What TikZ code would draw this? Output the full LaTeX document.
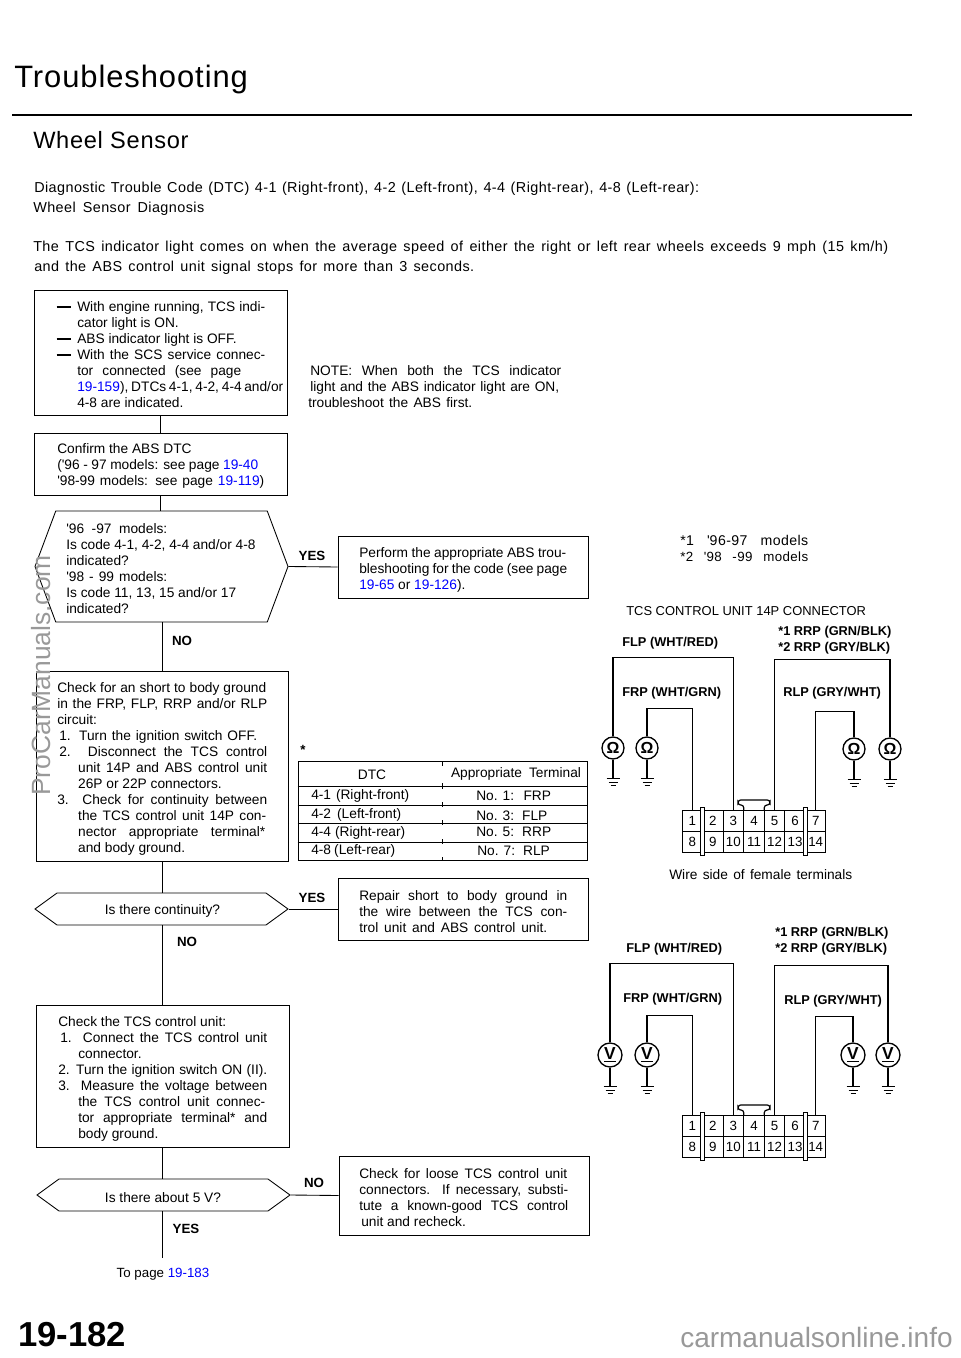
\documentclass[tikz,border=0pt]{standalone}
\usepackage{fontspec}
\setmainfont{Liberation Sans}
\newfontfamily\trackedfont[LetterSpace=3]{Liberation Sans}
\usetikzlibrary{shapes.symbols}
\newcommand{\linkref}[1]{\textcolor{blue}{#1}}
\newcommand{\boxdash}{\llap{\rule[2.8pt]{10.5pt}{1.3pt}\hspace{5pt}}}
\newcommand{\fitline}[2]{\makebox[\dimexpr#1pt*3/4\relax][s]{#2}}
\newcommand{\sq}{\textquotesingle{}}
\tikzset{
  flowbox/.style 2 args={draw,line width=0.65pt,minimum width=#1*0.75pt,minimum height=#2*0.75pt,inner sep=0pt},
  decision/.style n args={3}{draw,line width=0.65pt,signal,signal to=west and east,signal pointer angle=#3,
    minimum width=#1*0.75pt,minimum height=#2*0.75pt,inner sep=0pt},
  boxtext/.style={anchor=west,align=left,inner sep=0pt,yshift=-1pt,font=\fontsize{10.3}{12}\selectfont},
  flowline/.style={line width=0.65pt},
  answer/.style={inner sep=0pt,font=\bfseries\fontsize{10}{12}\selectfont},
  wirelabel/.style={anchor=west,inner sep=0pt,font=\bfseries\fontsize{9.6}{12}\selectfont},
  headline/.style={anchor=west,inner sep=0pt,yshift=-1.5pt,font=\trackedfont\fontsize{10.8}{13}\selectfont},
  ohmmeter/.style={draw,circle,line width=1pt,minimum size=16.5pt,inner sep=0pt,font=\bfseries\fontsize{12}{12}\selectfont},
  voltmeter/.style={draw,circle,line width=1pt,minimum size=18pt,inner sep=0pt,font=\bfseries\fontsize{13}{13}\selectfont},
  wire/.style={line width=0.9pt},
  pincell/.style={draw,line width=0.75pt,minimum width=15.4pt,minimum height=15.75pt,inner sep=0pt,font=\fontsize{10}{10}\selectfont},
  earth/.pic={
    \draw[wire] (0,0) -- (0,19);
    \draw[wire] (-6.5,19) -- (6.5,19);
    \draw[wire] (-4.5,22.5) -- (4.5,22.5);
    \draw[wire] (-2.5,26) -- (2.5,26);
  },
  tcsplug/.pic={
    \node[pincell] (-c1) at (10.3,10.5) {1};
    \node[pincell] (-c2) at (30.9,10.5) {2};
    \node[pincell] (-c3) at (51.4,10.5) {3};
    \node[pincell] (-c4) at (72,10.5) {4};
    \node[pincell] (-c5) at (92.6,10.5) {5};
    \node[pincell] (-c6) at (113.1,10.5) {6};
    \node[pincell] (-c7) at (133.7,10.5) {7};
    \node[pincell] (-c8) at (10.3,31.5) {8};
    \node[pincell] (-c9) at (30.9,31.5) {9};
    \node[pincell] (-c10) at (51.4,31.5) {10};
    \node[pincell] (-c11) at (72,31.5) {11};
    \node[pincell] (-c12) at (92.6,31.5) {12};
    \node[pincell] (-c13) at (113.1,31.5) {13};
    \node[pincell] (-c14) at (133.7,31.5) {14};
    \draw[line width=0.7pt,fill=white] (18.6,-3) rectangle (22.6,45);
    \draw[line width=0.7pt,fill=white] (121.4,-3) rectangle (125.4,45);
    \draw[wire,rounded corners=2pt] (61.7,0) -- (61.7,-5) -- (56,-5) -- (56,-10) -- (88,-10) -- (88,-5) -- (82.3,-5) -- (82.3,0);
  }
}
\begin{document}
\begin{tikzpicture}[x=0.75pt,y=-0.75pt]
  \useasboundingbox (0,0) rectangle (960,1358);
  % page heading
  \node[anchor=west,inner sep=0pt,font=\trackedfont\fontsize{23.2}{28}\selectfont] (pagetitle) at (14,79.5) {Troubleshooting};
  \draw[line width=1.6pt] (12,115) -- (912,115);
  \node[anchor=west,inner sep=0pt,font=\trackedfont\fontsize{17.7}{22}\selectfont] (sectitle) at (33,140) {Wheel Sensor};
  \node[headline] (dtcline) at (34,187) {\fitline{665}{Diagnostic Trouble Code (DTC) 4-1 (Right-front), 4-2 (Left-front), 4-4 (Right-rear), 4-8 (Left-rear):}};
  \node[headline] (diagline) at (33,207) {\fitline{171}{Wheel Sensor Diagnosis}};
  \node[headline] (introa) at (33,246) {\fitline{855}{The TCS indicator light comes on when the average speed of either the right or left rear wheels exceeds 9 mph (15 km/h)}};
  \node[headline] (introb) at (34,266) {\fitline{440}{and the ABS control unit signal stops for more than 3 seconds.}};
  % flowchart boxes
  \node[flowbox={253}{125}] (engbox) at (160.5,352.5) {};
  \node[boxtext] (engtext) at (77,353) {\boxdash\fitline{188}{With engine running, TCS indi-}\\cator light is ON.\\\boxdash ABS indicator light is OFF.\\\boxdash\fitline{188}{With the SCS service connec-}\\\fitline{164}{tor connected (see page}\\\fitline{206}{\linkref{19-159}), DTCs 4-1, 4-2, 4-4 and/or}\\4-8 are indicated.};
  \node[flowbox={253}{62}] (absbox) at (160.5,464) {};
  \node[boxtext] (abstext) at (57,465) {Confirm the ABS DTC\\\fitline{201}{(\sq 96 - 97 models: see page \linkref{19-40}}\\\fitline{207}{\sq 98-99 models: see page \linkref{19-119})}};
  \node[decision={253}{111}{139}] (codedec) at (161.5,566.5) {};
  \node[boxtext] (codetext) at (66,567.5) {\fitline{101}{\sq 96 -97 models:}\\Is code 4-1, 4-2, 4-4 and/or 4-8\\indicated?\\\fitline{101}{\sq 98 - 99 models:}\\Is code 11, 13, 15 and/or 17\\indicated?};
  \node[flowbox={252}{190}] (shortbox) at (162,766) {};
  \node[boxtext] (shorttext) at (57,767.5) {\fitline{209}{Check for an short to body ground}\\\fitline{210}{in the FRP, FLP, RRP and/or RLP}\\circuit:\\\hspace*{1.5pt}\fitline{198}{1. Turn the ignition switch OFF.}\\\hspace*{1.5pt}\fitline{208}{2. Disconnect the TCS control}\\\hspace*{15.7pt}\fitline{189}{unit 14P and ABS control unit}\\\hspace*{15.7pt}26P or 22P connectors.\\\fitline{210}{3. Check for continuity between}\\\hspace*{15.7pt}\fitline{188}{the TCS control unit 14P con-}\\\hspace*{15.7pt}\fitline{187}{nector appropriate terminal*}\\\hspace*{15.7pt}and body ground.};
  \node[decision={253}{32}{72}] (contdec) at (161.5,909) {};
  \node[boxtext,anchor=center] (conttext) at (162.5,910) {Is there continuity?};
  \node[flowbox={253}{142}] (tcsbox) at (162.5,1076) {};
  \node[boxtext] (tcstext) at (58,1077.5) {Check the TCS control unit:\\\hspace*{1.5pt}\fitline{207}{1. Connect the TCS control unit}\\\hspace*{15pt}connector.\\\fitline{209}{2. Turn the ignition switch ON (II).}\\\fitline{209}{3. Measure the voltage between}\\\hspace*{15pt}\fitline{187}{the TCS control unit connec-}\\\hspace*{15pt}\fitline{189}{tor appropriate terminal* and}\\\hspace*{15pt}body ground.};
  \node[decision={253}{32}{72}] (voltdec) at (163.5,1195) {};
  \node[boxtext,anchor=center] (volttext) at (163,1196) {Is there about 5 V?};
  \coordinate (nextpage) at (162,1258);
  \node[anchor=center,inner sep=0pt,font=\fontsize{10}{12}\selectfont] (pagelink) at (163,1274.5) {To page \linkref{19-183}};
  % right hand boxes
  \node[flowbox={250}{62}] (abstrou) at (463,567) {};
  \node[boxtext] (aboutext) at (359,569) {\fitline{207}{Perform the appropriate ABS trou-}\\\fitline{208}{bleshooting for the code (see page}\\\linkref{19-65} or \linkref{19-126}).};
  \node[flowbox={250}{62}] (repairbox) at (463,909) {};
  \node[boxtext] (repairtext) at (359,910) {\fitline{208}{Repair short to body ground in}\\\fitline{208}{the wire between the TCS con-}\\\fitline{188}{trol unit and ABS control unit.}};
  \node[flowbox={250}{79}] (loosebox) at (464,1195.5) {};
  \node[boxtext] (loosetext) at (359,1196) {\fitline{208}{Check for loose TCS control unit}\\\fitline{209}{connectors. If necessary, substi-}\\\fitline{209}{tute a known-good TCS control}\\\hspace*{1.5pt}unit and recheck.};
  % flow lines
  \draw[flowline] (engbox.south) -- (absbox.north);
  \draw[flowline] (absbox.south) -- (absbox.south |- codedec.north);
  \draw[flowline] (shortbox.north |- codedec.south) -- (shortbox.north);
  \draw[flowline] (shortbox.south) -- (shortbox.south |- contdec.north);
  \draw[flowline] (tcsbox.north -| shortbox.south) -- (shortbox.south |- contdec.south);
  \draw[flowline] (tcsbox.south) -- (tcsbox.south |- voltdec.north);
  \draw[flowline] (nextpage |- voltdec.south) -- (nextpage);
  \draw[flowline] (codedec.east) -- (abstrou.west);
  \draw[flowline] (contdec.east) -- (repairbox.west);
  \draw[flowline] (voltdec.east) -- (loosebox.west);
  \node[answer] (yesa) at (312,556) {YES};
  \node[answer] (noa) at (182,641) {NO};
  \node[answer] (yesb) at (312,898) {YES};
  \node[answer] (nob) at (187,942) {NO};
  \node[answer] (noc) at (314,1183) {NO};
  \node[answer] (yesc) at (186,1229) {YES};
  % note and footnotes
  \node[boxtext] (notetext) at (310,385) {\fitline{251}{NOTE: When both the TCS indicator}\\\fitline{249}{light and the ABS indicator light are ON,}\\\hspace*{-1.5pt}\fitline{164}{troubleshoot the ABS first.}};
  \node[boxtext,font=\trackedfont\fontsize{10.6}{12}\selectfont] (modela) at (680,539) {\fitline{128}{*1 \sq 96-97 models}};
  \node[boxtext,font=\trackedfont\fontsize{10}{12}\selectfont] (modelb) at (680,555) {\fitline{128}{*2 \sq 98 -99 models}};
  \node[boxtext,font=\fontsize{9.7}{12}\selectfont] (plugtitle) at (626,610) {TCS CONTROL UNIT 14P CONNECTOR};
  \node[boxtext] (wireside) at (669,873) {\fitline{183}{Wire side of female terminals}};
  % terminal table
  \node[answer] (tablestar) at (303,750) {*};
  \node[flowbox={289}{99}] (dtctable) at (442.5,811) {};
  \draw[flowline] (dtctable.west |- 0,786) -- (dtctable.east |- 0,786);
  \draw[flowline] (dtctable.west |- 0,805) -- (dtctable.east |- 0,805);
  \draw[flowline] (dtctable.west |- 0,823) -- (dtctable.east |- 0,823);
  \draw[flowline] (dtctable.west |- 0,842) -- (dtctable.east |- 0,842);
  \draw[line width=0.5pt] (442,761) -- (442,766);
  \draw[line width=0.5pt] (442,783) -- (442,789);
  \draw[line width=0.5pt] (442,802) -- (442,807);
  \draw[line width=0.5pt] (442,820) -- (442,825);
  \draw[line width=0.5pt] (442,839) -- (442,844);
  \draw[line width=0.5pt] (442,857) -- (442,860);
  \node[boxtext,anchor=center] (dtchead) at (372,773) {DTC};
  \node[boxtext,anchor=center] (termhead) at (516,773) {\fitline{130}{Appropriate Terminal}};
  \node[boxtext] (dtca) at (311,795) {\fitline{98}{4-1 (Right-front)}};
  \node[boxtext] (dtcb) at (311,814) {\fitline{90}{4-2 (Left-front)}};
  \node[boxtext] (dtcc) at (311,832) {\fitline{94}{4-4 (Right-rear)}};
  \node[boxtext] (dtcd) at (311,850) {\fitline{84}{4-8 (Left-rear)}};
  \node[boxtext] (terma) at (476,795) {No. 1:\hspace{7pt}FRP};
  \node[boxtext] (termb) at (476,814) {No. 3:\hspace{6pt}FLP};
  \node[boxtext] (termc) at (476,831) {No. 5:\hspace{6pt}RRP};
  \node[boxtext] (termd) at (477,850) {No. 7:\hspace{6pt}RLP};
  % continuity test
  \pic (plugA) at (682,810) {tcsplug};
  \node[ohmmeter] (flpA) at (613,748) {Ω};
  \node[ohmmeter] (frpA) at (647,748) {Ω};
  \node[ohmmeter] (rlpA) at (854,749) {Ω};
  \node[ohmmeter] (rrpA) at (890,749) {Ω};
  \pic at (flpA.south) {earth};
  \pic at (frpA.south) {earth};
  \pic at (rlpA.south) {earth};
  \pic at (rrpA.south) {earth};
  \draw[wire] (flpA.north) -- ++(0,-79) -| (plugA-c3.north);
  \draw[wire] (frpA.north) -- ++(0,-28) -| (plugA-c1.north);
  \draw[wire] (rlpA.north) -- ++(0,-26) -| (plugA-c7.north);
  \draw[wire] (rrpA.north) -- ++(0,-78) -| (plugA-c5.north);
  \node[wirelabel] (flplabA) at (622,643) {FLP (WHT/RED)};
  \node[wirelabel] (frplabA) at (622,693) {FRP (WHT/GRN)};
  \node[wirelabel] (rrplabA) at (778,632) {*1 RRP (GRN/BLK)};
  \node[wirelabel] (rrplabB) at (778,648) {*2 RRP (GRY/BLK)};
  \node[wirelabel] (rlplabA) at (783,693) {RLP (GRY/WHT)};
  % voltage test
  \pic (plugB) at (682,1115) {tcsplug};
  \node[voltmeter] (flpB) at (610,1055) {\underline{V}};
  \node[voltmeter] (frpB) at (647,1055) {\underline{V}};
  \node[voltmeter] (rlpB) at (853,1055) {\underline{V}};
  \node[voltmeter] (rrpB) at (888,1055) {\underline{V}};
  \pic at (flpB.south) {earth};
  \pic at (frpB.south) {earth};
  \pic at (rlpB.south) {earth};
  \pic at (rrpB.south) {earth};
  \draw[wire] (flpB.north) -- ++(0,-79) -| (plugB-c3.north);
  \draw[wire] (frpB.north) -- ++(0,-27) -| (plugB-c1.north);
  \draw[wire] (rlpB.north) -- ++(0,-26) -| (plugB-c7.north);
  \draw[wire] (rrpB.north) -- ++(0,-77) -| (plugB-c5.north);
  \node[wirelabel] (flplabB) at (626,949) {FLP (WHT/RED)};
  \node[wirelabel] (frplabB) at (623,999) {FRP (WHT/GRN)};
  \node[wirelabel] (rrplabC) at (775,933) {*1 RRP (GRN/BLK)};
  \node[wirelabel] (rrplabD) at (775,949) {*2 RRP (GRY/BLK)};
  \node[wirelabel] (rlplabB) at (784,1001) {RLP (GRY/WHT)};
  % page foot and watermarks
  \node[anchor=west,inner sep=0pt,font=\bfseries\fontsize{26}{28}\selectfont] (pagenum) at (18,1335) {19-182};
  \node[anchor=west,inner sep=0pt,text=black!40,font=\fontsize{21}{24}\selectfont] (footmark) at (680,1337) {carmanualsonline.info};
  \node[anchor=west,inner sep=0pt,text=black!40,rotate=90,font=\fontsize{19.8}{24}\selectfont] (sidemark) at (41,796) {ProCarManuals.com};
\end{tikzpicture}
\end{document}
